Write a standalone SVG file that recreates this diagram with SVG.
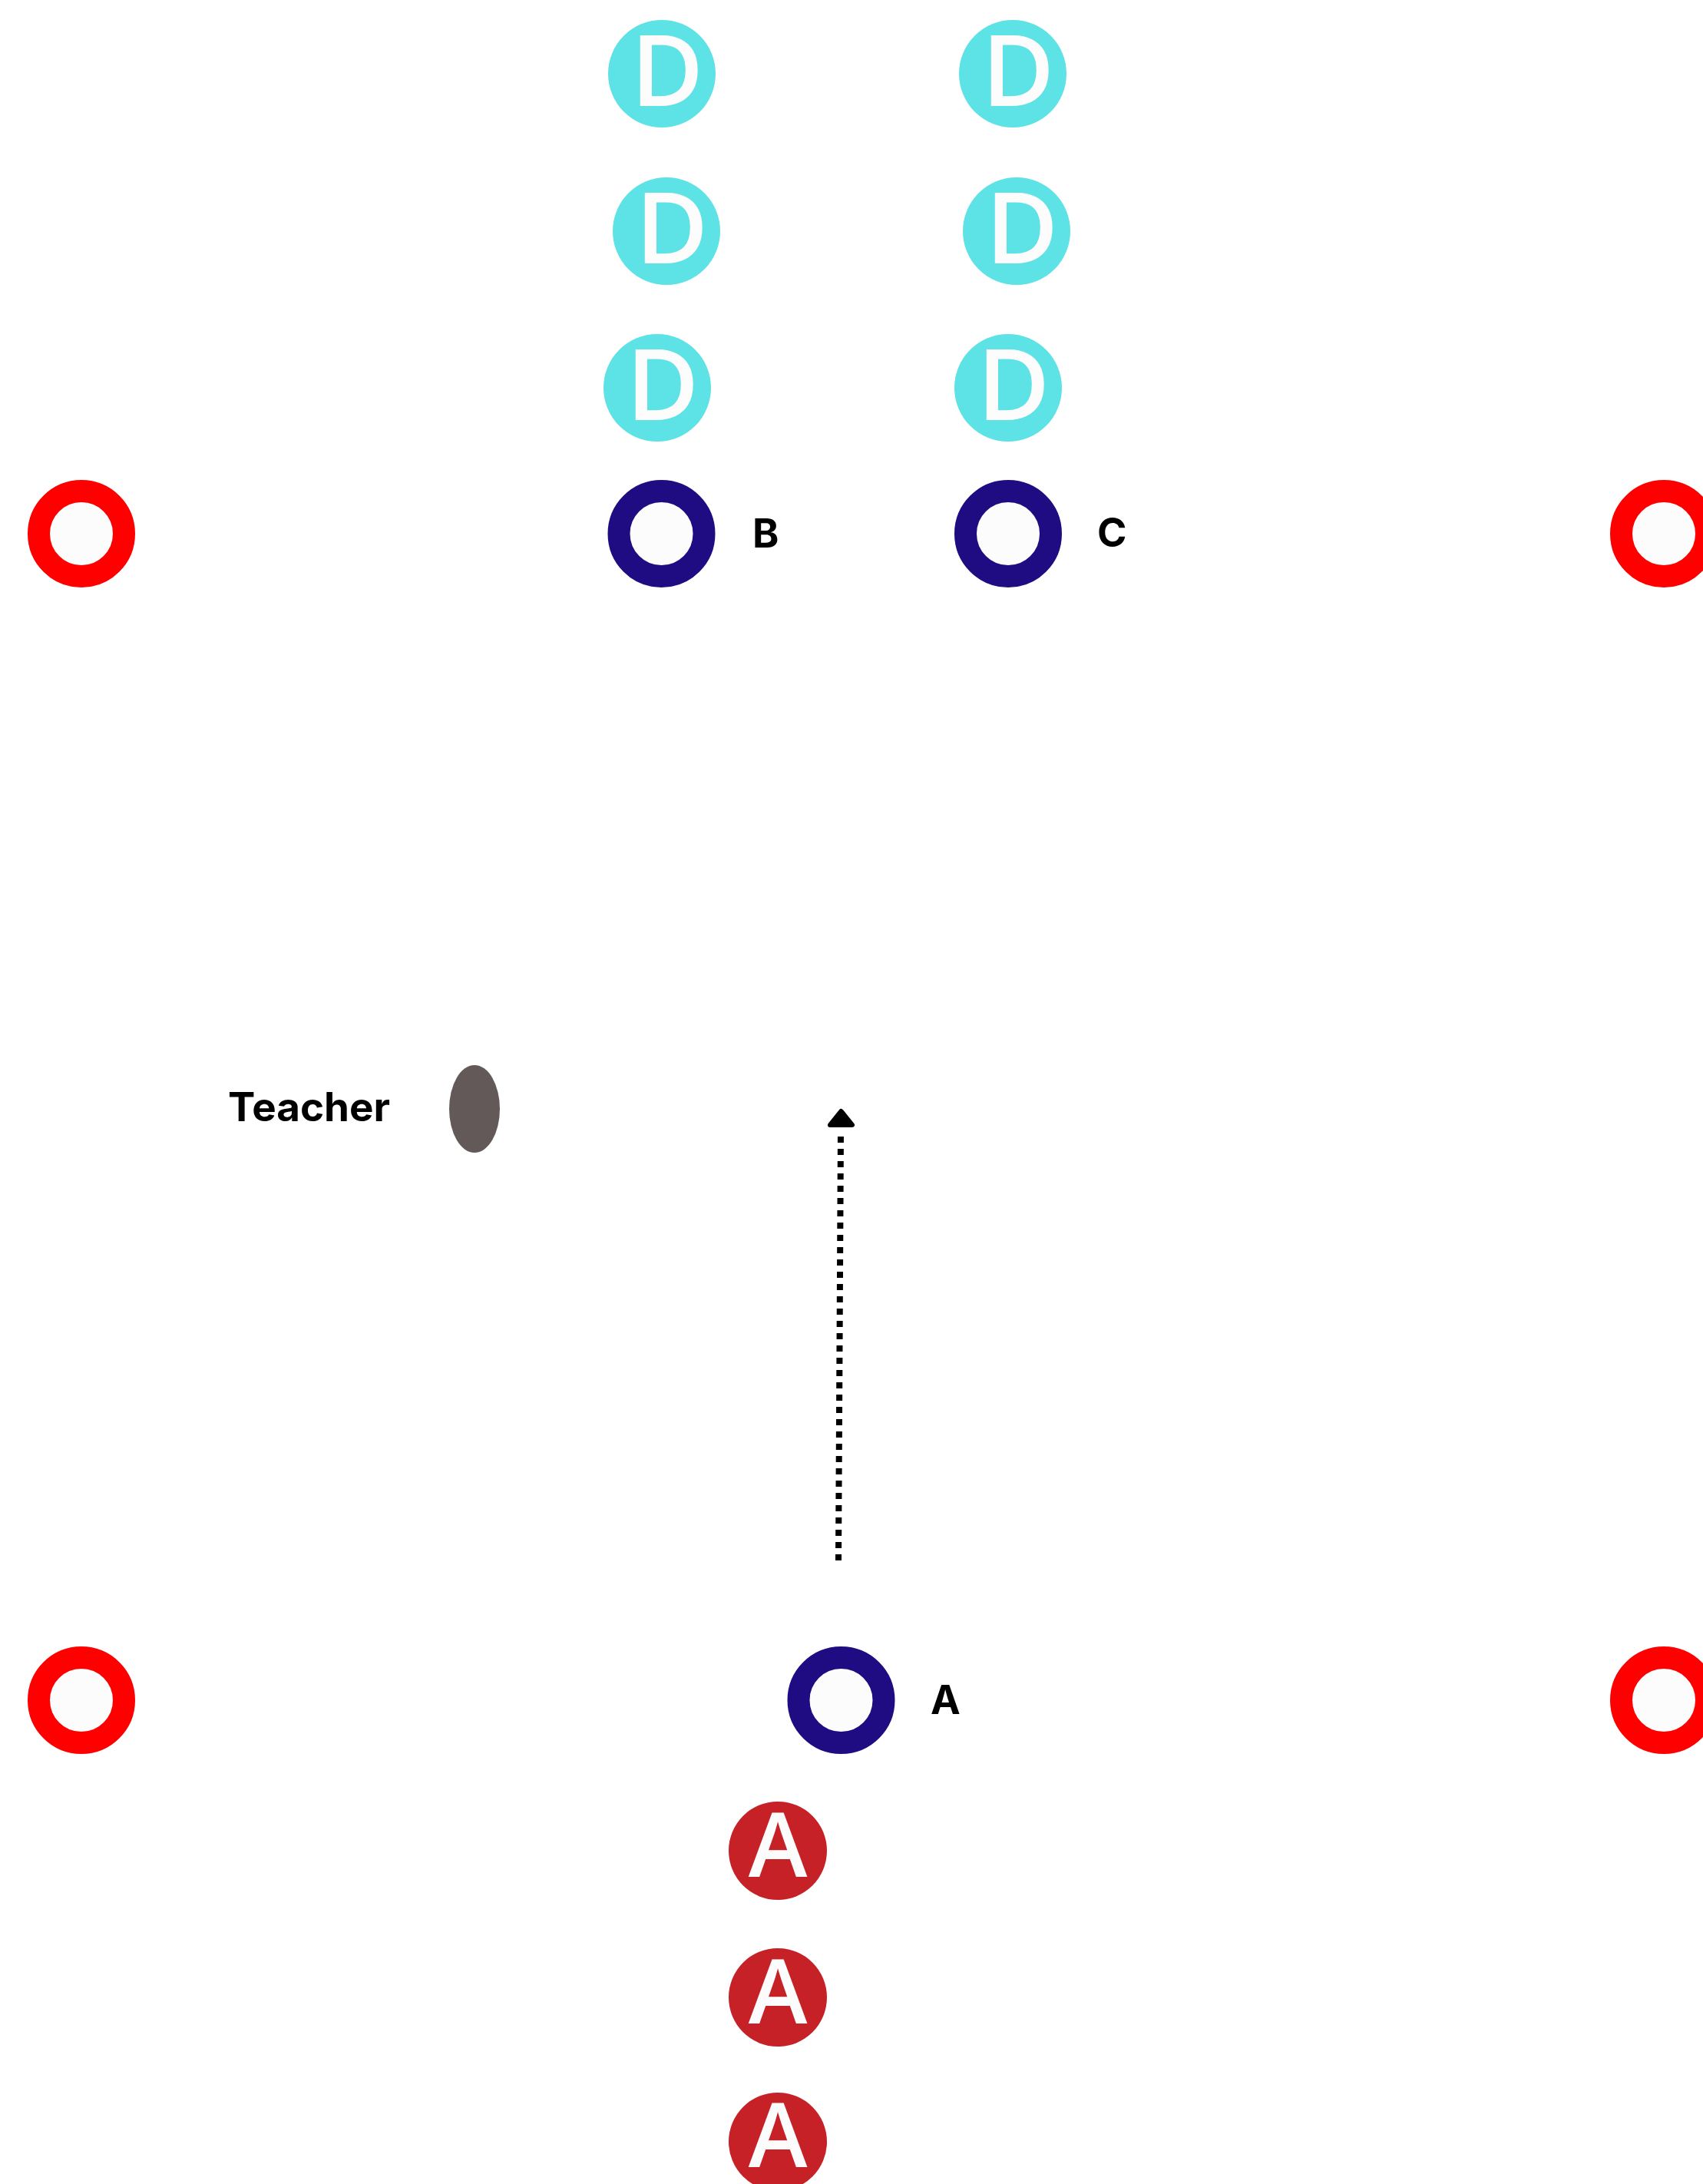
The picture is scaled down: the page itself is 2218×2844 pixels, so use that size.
<svg xmlns="http://www.w3.org/2000/svg" width="2218" height="2844" viewBox="0 0 2218 2844">
<style>
.cone{fill:#FCFCFC;stroke:#FE0000;stroke-width:29}
.marker{fill:#FCFCFC;stroke:#200C82;stroke-width:29}
.def{fill:#5DE2E6}
.att{fill:#C62126}
.dl{font-family:"Open Sans","Noto Sans",sans-serif;font-weight:600;font-size:129px;fill:#FCFCFC;text-anchor:middle}
.al{font-family:"Open Sans","Noto Sans",sans-serif;font-weight:600;font-size:116px;fill:#FCFCFC;text-anchor:middle}
.lbl{font-family:Inter,"Liberation Sans",sans-serif;font-weight:700;font-size:52px;fill:#000}
</style>
<rect width="2218" height="2844" fill="#FFFFFF"/>
<g id="connectors">
<line x1="1092" y1="2032" x2="1095" y2="1472" stroke="#000" stroke-width="8" stroke-dasharray="8 8"/>
<path d="M1095.5 1447 L1110 1465 L1081 1465 Z" fill="#000" stroke="#000" stroke-width="6" stroke-linejoin="round"/>
</g>
<g id="cone-tl"><circle class="cone" cx="106" cy="695" r="55.5"/></g>
<g id="cone-tr"><circle class="cone" cx="2167" cy="695" r="55.5"/></g>
<g id="cone-bl"><circle class="cone" cx="106" cy="2214" r="55.5"/></g>
<g id="cone-br"><circle class="cone" cx="2167" cy="2214" r="55.5"/></g>
<g id="marker-b"><circle class="marker" cx="861.5" cy="695" r="55.5"/><text class="lbl" x="980" y="713">B</text></g>
<g id="marker-c"><circle class="marker" cx="1313" cy="695" r="55.5"/><text class="lbl" x="1429" y="712">C</text></g>
<g id="marker-a"><circle class="marker" cx="1095.5" cy="2214" r="55.5"/><text class="lbl" x="1212" y="2232">A</text></g>
<g id="teacher"><text class="lbl" x="297" y="1460" textLength="211" lengthAdjust="spacingAndGlyphs">Teacher</text><ellipse cx="618" cy="1444" rx="33" ry="57" fill="#645959"/></g>
<g id="d1"><circle class="def" cx="862" cy="96" r="70"/><text class="dl" x="869" y="138">D</text></g>
<g id="d2"><circle class="def" cx="868" cy="301" r="70"/><text class="dl" x="875" y="343">D</text></g>
<g id="d3"><circle class="def" cx="856" cy="505" r="70"/><text class="dl" x="863" y="547">D</text></g>
<g id="d4"><circle class="def" cx="1319" cy="96" r="70"/><text class="dl" x="1326" y="138">D</text></g>
<g id="d5"><circle class="def" cx="1324" cy="301" r="70"/><text class="dl" x="1331" y="343">D</text></g>
<g id="d6"><circle class="def" cx="1313" cy="505" r="70"/><text class="dl" x="1320" y="547">D</text></g>
<g id="a1"><circle class="att" cx="1013" cy="2410" r="64"/><text class="al" x="1013" y="2444">A</text></g>
<g id="a2"><circle class="att" cx="1013" cy="2601" r="64"/><text class="al" x="1013" y="2635">A</text></g>
<g id="a3"><circle class="att" cx="1013" cy="2789" r="64"/><text class="al" x="1013" y="2822">A</text></g>
</svg>
